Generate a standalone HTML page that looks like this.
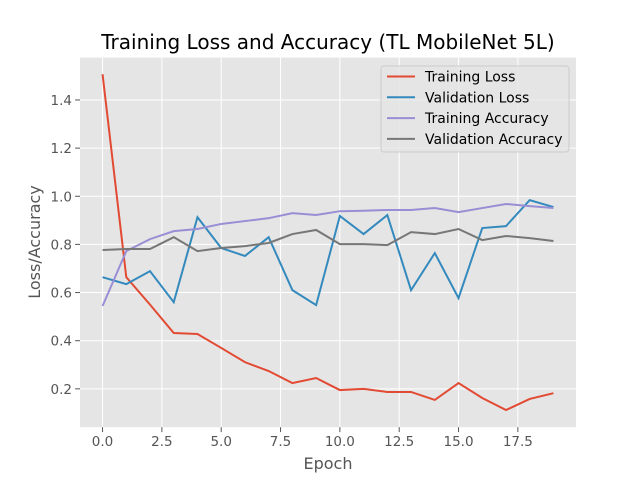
<!DOCTYPE html>
<html><head><meta charset="utf-8"><style>
body{margin:0;background:#fff;}
svg{display:block;font-family:"DejaVu Sans","Liberation Sans",sans-serif;}
</style></head><body>
<svg id="chart" width="640" height="480">
<rect x="0" y="0" width="640" height="480" fill="#fff"/>
<rect x="80" y="57.6" width="496" height="369.6" fill="#E5E5E5"/>
<g id="grid"></g>
<g id="ticks"></g>
<g id="series"></g>
<text x="328" y="49" text-anchor="middle" font-size="20" fill="#000">Training Loss and Accuracy (TL MobileNet 5L)</text>
<text x="328" y="469" text-anchor="middle" font-size="16" fill="#555">Epoch</text>
<text transform="translate(40,242) rotate(-90)" text-anchor="middle" font-size="16" fill="#555">Loss/Accuracy</text>
<g id="legend"></g>
</svg>
<script>
const epochs=[0,1,2,3,4,5,6,7,8,9,10,11,12,13,14,15,16,17,18,19];
const trainLoss=[1.507,0.664,0.55,0.432,0.428,0.37,0.311,0.274,0.224,0.245,0.195,0.2,0.187,0.187,0.154,0.224,0.162,0.112,0.158,0.182];
const valLoss=[0.664,0.635,0.689,0.56,0.913,0.785,0.752,0.83,0.61,0.548,0.918,0.843,0.922,0.61,0.764,0.577,0.868,0.876,0.984,0.955];
const trainAcc=[0.544,0.772,0.822,0.855,0.864,0.885,0.897,0.909,0.93,0.922,0.938,0.94,0.943,0.943,0.951,0.934,0.951,0.968,0.959,0.951];
const valAcc=[0.777,0.781,0.781,0.83,0.772,0.785,0.793,0.806,0.843,0.86,0.801,0.801,0.797,0.851,0.843,0.864,0.818,0.835,0.826,0.814];
const xTicks=[0,2.5,5,7.5,10,12.5,15,17.5];
const xTickLabels=["0.0","2.5","5.0","7.5","10.0","12.5","15.0","17.5"];
const yTicks=[0.2,0.4,0.6,0.8,1.0,1.2,1.4];
const yTickLabels=["0.2","0.4","0.6","0.8","1.0","1.2","1.4"];
const seriesNames=["Training Loss","Validation Loss","Training Accuracy","Validation Accuracy"];

const NS="http://www.w3.org/2000/svg";
const L=80,R=576,T=57.6,B=427.2;
const xmin=-0.95,xmax=19.95,ymin=0.0407,ymax=1.576;
const xs=v=>L+(v-xmin)/(xmax-xmin)*(R-L);
const ys=v=>B-(v-ymin)/(ymax-ymin)*(B-T);
function mk(tag,attrs,parent){const e=document.createElementNS(NS,tag);for(const k in attrs)e.setAttribute(k,attrs[k]);parent.appendChild(e);return e;}
const grid=document.getElementById('grid'),ticks=document.getElementById('ticks'),series=document.getElementById('series'),legend=document.getElementById('legend');
xTicks.forEach((t,i)=>{
 const g=mk('line',{x1:xs(t),x2:xs(t),y1:T,y2:B,stroke:'#fff','stroke-width':1},grid);
 
 
 const tk=mk('line',{x1:xs(t),x2:xs(t),y1:B,y2:B+4.9,stroke:'#555'},ticks);
 
 
 const tx=mk('text',{x:xs(t),y:B+19,'text-anchor':'middle','font-size':13.5,fill:'#555'},ticks);
 tx.textContent=xTickLabels[i];
 
 
});
yTicks.forEach((t,i)=>{
 const g=mk('line',{x1:L,x2:R,y1:ys(t),y2:ys(t),stroke:'#fff','stroke-width':1},grid);
 
 
 const tk=mk('line',{x1:L-4.9,x2:L,y1:ys(t),y2:ys(t),stroke:'#555'},ticks);
 
 
 const tx=mk('text',{x:L-8,y:ys(t)+5,'text-anchor':'end','font-size':13.5,fill:'#555'},ticks);
 tx.textContent=yTickLabels[i];
 
 
});
const data=[trainLoss,valLoss,trainAcc,valAcc];
const colors=["#E24A33","#348ABD","#988ED5","#777777"];
const names=["training-loss-line","validation-loss-line","training-accuracy-line","validation-accuracy-line"];
data.forEach((d,k)=>{
 const p=mk('polyline',{points:d.map((v,i)=>xs(epochs[i])+','+ys(v)).join(' '),fill:'none',stroke:colors[k],'stroke-width':2},series);
 
 
});
const bg=mk('rect',{x:381,y:66,width:188,height:86,rx:3,fill:'#E5E5E5',stroke:'#ccc','fill-opacity':0.8},legend);


seriesNames.forEach((n,k)=>{
 const y=76.5+k*20.8;
 const ln=mk('line',{x1:387,x2:415,y1:y,y2:y,stroke:colors[k],'stroke-width':2},legend);
 
 
 const t=mk('text',{x:425,y:y+5,'font-size':14,fill:'#000'},legend);
 t.textContent=n;
 
 
});
</script>
</body></html>
